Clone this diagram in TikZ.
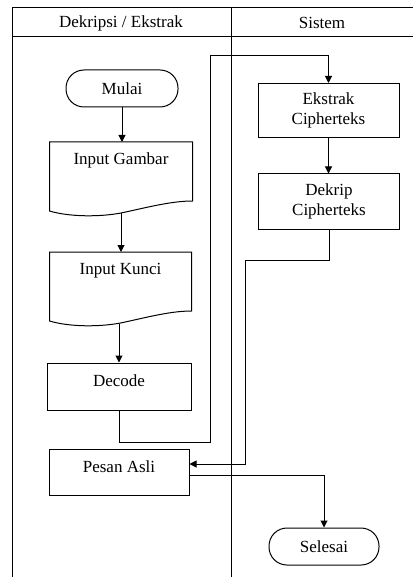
\documentclass[tikz,border=0pt]{standalone}
\usepackage{fontspec}
\setmainfont{Liberation Serif}
\usetikzlibrary{arrows.meta,calc}

% document symbol: box with a wavy bottom
\newcommand{\docwave}[1]{%
  \draw (#1.north west) -- (#1.south west)
    .. controls ($(#1.south west)+(20pt,-6pt)$) and ($(#1.south)+(-21pt,-6pt)$) .. ($(#1.south)+(0,-2pt)$)
    .. controls ($(#1.south)+(24pt,3pt)$) and ($(#1.south east)+(-22pt,10pt)$) .. ($(#1.south east)+(0,10pt)$)
    -- (#1.north east) -- cycle;}

\begin{document}
\begin{tikzpicture}
    [x=1pt, y=-1pt, line width=1pt,
     every node/.style={font=\fontsize{17}{20}\selectfont},
     arr/.style={-{Triangle[length=7pt,width=7pt]}},
     terminal/.style={draw, rounded corners=18pt, minimum width=112pt, minimum height=37pt},
     docbox/.style={minimum width=142pt, minimum height=68pt, text height=19pt, text depth=43pt, inner sep=3pt, anchor=north},
     process/.style={draw, minimum width=144pt, minimum height=47pt, text height=10pt, text depth=10pt},
     sysbox/.style={draw, align=center, minimum width=141pt, minimum height=54pt}]
    \useasboundingbox (0,0) rectangle (413,577);

    % swimlanes
    \draw (12,577) -- (12,8) -- (413,8);
    \draw (12,37) -- (413,37);
    \draw (231,8) -- (231,577);
    \node (judulkiri) at (121,23) {Dekripsi / Ekstrak};
    \node (judulkanan) at (322,23) {Sistem};

    \node[terminal] (mulai) at (122,88.5) {Mulai};
    \node[docbox] (gambar) at (121,142) {Input Gambar};
    \node[docbox, minimum width=141pt] (kunci) at (120.5,252) {Input Kunci};
    \node[process] (decode) at (119,386.5) {Decode};
    \node[process, minimum width=140pt, minimum height=46pt] (pesan) at (119,472) {Pesan Asli};
    \node[sysbox] (ekstrak) at (328.5,110.5) {Ekstrak\\Cipherteks};
    \node[sysbox, minimum height=55pt] (dekrip) at (329,201.5) {Dekrip\\Cipherteks};
    \node[terminal, minimum width=110pt] (selesai) at (324,546.5) {Selesai};
    \docwave{gambar}
    \docwave{kunci}

    \coordinate (b1) at (210,442);
    \coordinate (b2) at (210,56);
    \coordinate (b3) at (245,260);

    \draw[arr] (mulai.south) -- (mulai.south |- gambar.north);
    \draw[arr] ([yshift=-2pt]gambar.south) -- (gambar.south |- kunci.north);
    \draw[arr] ([yshift=-3pt]kunci.south -| decode.north) -- (decode.north);
    \draw[arr] (decode.south) |- (b1) -- (b2) -| (ekstrak.north);
    \draw[arr] (ekstrak.south) -- (ekstrak.south |- dekrip.north);
    \draw[arr] (dekrip.south) |- (b3) |- ([yshift=8pt]pesan.east);
    \draw[arr] ([yshift=-3pt]pesan.east) -| (selesai.north);
\end{tikzpicture}
\end{document}
